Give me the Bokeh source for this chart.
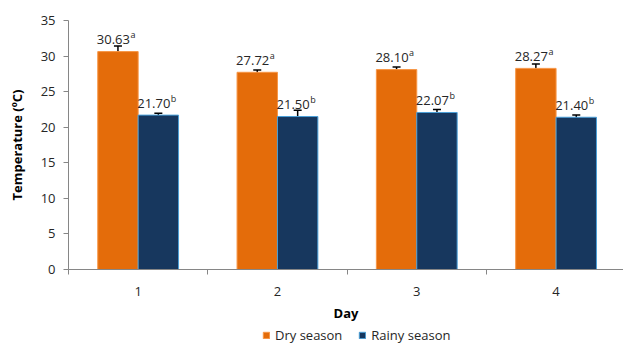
from bokeh.plotting import figure
from bokeh.layouts import column
from bokeh.models import ColumnDataSource, Whisker, TeeHead, FixedTicker, Legend, LegendItem
from bokeh.core.properties import value
from bokeh.transform import dodge
from bokeh.embed import file_html
from bokeh.resources import INLINE

days = [1, 2, 3, 4]
day_labels = ["1", "2", "3", "4"]
dry = [30.63, 27.72, 28.10, 28.27]
rainy = [21.70, 21.50, 22.07, 21.40]
dry_err = [0.77, 0.33, 0.37, 0.63]
rainy_err = [0.25, 0.90, 0.42, 0.33]
dry_sig = ["a", "a", "a", "a"]
rainy_sig = ["b", "b", "b", "b"]
series_names = ["Dry season", "Rainy season"]
y_ticks = [0, 5, 10, 15, 20, 25, 30, 35]

FONT = "Open Sans"
OFF = 0.145
W = 0.29
DRY_FILL, DRY_LINE = "#E46C0A", "#F79646"
RAIN_FILL, RAIN_LINE = "#17375E", "#4A9FD8"

def make_src(vals, errs, sig):
    return ColumnDataSource(dict(
        x=days, top=vals,
        upper=[v + e for v, e in zip(vals, errs)],
        lower=[v - e for v, e in zip(vals, errs)],
        lab=["%.2f" % v for v in vals],
        sig=sig,
    ))

src_d = make_src(dry, dry_err, dry_sig)
src_r = make_src(rainy, rainy_err, rainy_sig)

p = figure(width=623, height=327, x_range=(0.5, 4.484), y_range=(0, 35),
           output_backend="svg", toolbar_location=None,
           min_border_left=68, min_border_right=0, min_border_top=20, min_border_bottom=58)
p.outline_line_color = None
p.grid.visible = False

p.vbar(x=dodge("x", -OFF), top="top", width=W, source=src_d,
       fill_color=DRY_FILL, line_color=DRY_LINE, line_width=1)
p.vbar(x=dodge("x", OFF), top="top", width=W, source=src_r,
       fill_color=RAIN_FILL, line_color=RAIN_LINE, line_width=1)

for src, off in ((src_d, -OFF), (src_r, OFF)):
    wk = Whisker(base=dodge("x", off), upper="upper", lower="lower", source=src,
                 line_color="black", line_width=1.5,
                 upper_head=TeeHead(size=8, line_color="black", line_width=1.5),
                 lower_head=TeeHead(size=8, line_color="black", line_width=1.5))
    p.add_layout(wk)
    p.text(x=dodge("x", off), y="top", text="lab", source=src,
           text_font=value(FONT), text_font_size="13px", text_color="#262626",
           text_align="right", text_baseline="alphabetic", x_offset=12, y_offset=-12)
    p.text(x=dodge("x", off), y="top", text="sig", source=src,
           text_font=value(FONT), text_font_size="9px", text_color="#262626",
           text_align="left", text_baseline="alphabetic", x_offset=12.5, y_offset=-17)

# axes
ax = p.xaxis[0]
ax.ticker = FixedTicker(ticks=days, minor_ticks=[0.5, 1.5, 2.5, 3.5, 4.5])
ax.major_label_overrides = {d: l for d, l in zip(days, day_labels)}
ax.major_tick_out = 0
ax.major_tick_in = 0
ax.minor_tick_out = 5
ax.minor_tick_in = 0
ax.minor_tick_line_color = "#868686"
ax.axis_line_color = "#868686"
ax.major_label_standoff = 12
ax.major_label_text_font = FONT
ax.major_label_text_font_size = "13px"
ax.major_label_text_color = "#262626"
ax.axis_label = "Day"
ax.axis_label_text_font = FONT
ax.axis_label_text_font_size = "13px"
ax.axis_label_text_font_style = "bold"
ax.axis_label_text_color = "black"
ax.axis_label_standoff = 5

ay = p.yaxis[0]
ay.ticker = FixedTicker(ticks=y_ticks)
ay.major_tick_out = 5
ay.major_tick_in = 0
ay.minor_tick_line_color = None
ay.major_tick_line_color = "#868686"
ay.axis_line_color = "#868686"
ay.major_label_standoff = 8
ay.major_label_text_font = FONT
ay.major_label_text_font_size = "13px"
ay.major_label_text_color = "#262626"
ay.axis_label = "Temperature (ºC)"
ay.axis_label_text_font = FONT
ay.axis_label_text_font_size = "13px"
ay.axis_label_text_font_style = "bold"
ay.axis_label_text_color = "black"
ay.axis_label_standoff = 12

# legend strip (bars drawn out of view; only the legend shows)
p2 = figure(width=623, height=18, x_range=(0.5, 4.484), y_range=(100, 101),
            output_backend="svg", toolbar_location=None,
            min_border_left=68, min_border_right=0, min_border_top=0, min_border_bottom=0)
p2.axis.visible = False
p2.grid.visible = False
p2.outline_line_color = None
ld = p2.vbar(x="x", top="top", width=W, source=src_d, fill_color=DRY_FILL, line_color=DRY_LINE)
lr = p2.vbar(x="x", top="top", width=W, source=src_r, fill_color=RAIN_FILL, line_color=RAIN_LINE)
legend = Legend(items=[LegendItem(label=series_names[0], renderers=[ld]),
                       LegendItem(label=series_names[1], renderers=[lr])],
                orientation="horizontal", location=(194, 1),
                glyph_width=8, glyph_height=8, label_standoff=5, spacing=16,
                padding=0, margin=0, border_line_color=None,
                background_fill_alpha=0,
                label_text_font=FONT, label_text_font_size="13px",
                label_text_color="#262626", label_height=16)
p2.add_layout(legend, "center")

layout = column(p, p2, spacing=0)
open("out.html", "w").write(file_html(layout, INLINE))
